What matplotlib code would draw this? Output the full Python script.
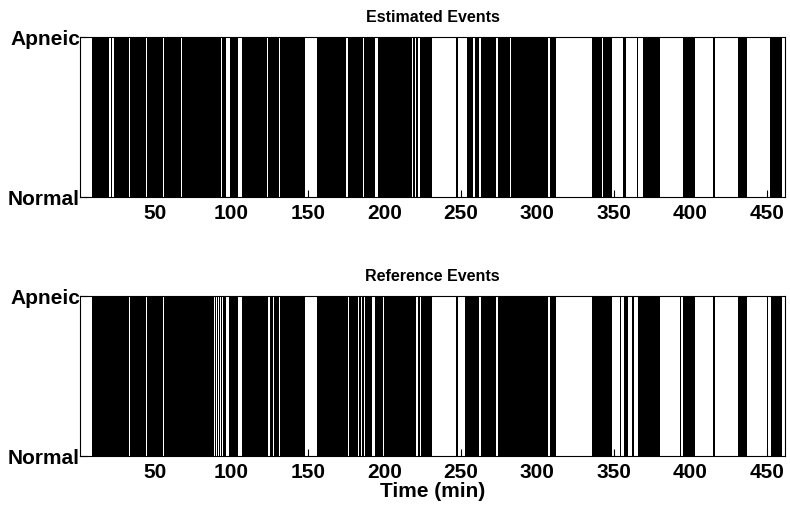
import matplotlib
matplotlib.use('Agg')
import matplotlib.pyplot as plt

# Apneic minutes as [start, end) intervals, one pair of lists per panel
est_start = [9, 21, 23, 34, 45, 56, 68, 94, 99, 107, 124, 132, 156, 176, 187, 196, 219, 221,
             223, 247, 254, 259, 263, 274, 283, 308, 336, 343, 356, 365, 369, 395, 415, 431, 452]
est_end = [20, 22, 33, 44, 55, 67, 93, 96.5, 104.2, 123, 131, 148, 175, 186, 194, 218, 220, 222,
           231, 248, 258, 262, 273, 282, 307, 312, 342, 349, 358, 366, 380, 403, 416, 437, 460]

ref_start = [9, 34, 45, 56, 89, 90.3, 91.6, 92.9, 94.2, 98.5, 106.8, 125, 128, 132, 156, 177,
             183.5, 185.5, 187.5, 194, 200, 221.8, 223.8, 247, 252.5, 263, 274, 308, 336, 354,
             357, 362, 366, 393, 395, 415, 431, 450, 453]
ref_end = [33, 44, 55, 88.5, 89.8, 91.1, 92.4, 93.7, 96.5, 104.2, 124, 127, 131, 148, 176, 183,
           185, 187, 192, 199, 221, 223, 231, 248, 262, 273, 307, 312, 349, 355, 359, 363, 380,
           394, 403, 416, 437, 451, 460]

panel_titles = ['Estimated Events', 'Reference Events']
xtick_vals = [50, 100, 150, 200, 250, 300, 350, 400, 450]
ytick_labels = ['Normal', 'Apneic']

plt.rcParams['font.family'] = ['Liberation Sans', 'DejaVu Sans']
plt.rcParams['font.weight'] = 'bold'

fig = plt.figure(figsize=(7.9, 5.05), dpi=100)
ax_top = fig.add_axes([0.1013, 0.6099, 0.8924, 0.3168])
ax_bot = fig.add_axes([0.1013, 0.0970, 0.8924, 0.3168])

panels = [(ax_top, est_start, est_end), (ax_bot, ref_start, ref_end)]
for (ax, starts, ends), title in zip(panels, panel_titles):
    spans = [(s, e - s) for s, e in zip(starts, ends)]
    ax.broken_barh(spans, (0, 1), facecolors='black', edgecolor='none')
    ax.set_xlim(1, 462)
    ax.set_ylim(0, 1)
    ax.set_xticks(xtick_vals)
    ax.set_xticklabels([str(v) for v in xtick_vals], fontsize=15, fontweight='bold')
    ax.set_yticks([0, 1])
    ax.set_yticklabels(ytick_labels, fontsize=15, fontweight='bold')
    ax.tick_params(direction='in', length=5, width=0.8)
    ax.tick_params(axis='x', pad=5)
    ax.tick_params(axis='y', pad=0)
    ax.set_title(title, fontsize=11.5, fontweight='bold', pad=11)
    for sp in ax.spines.values():
        sp.set_linewidth(0.8)

ax_bot.set_xlabel('Time (min)', fontsize=15, fontweight='bold', labelpad=0)

fig.savefig('out.png', dpi=100)
